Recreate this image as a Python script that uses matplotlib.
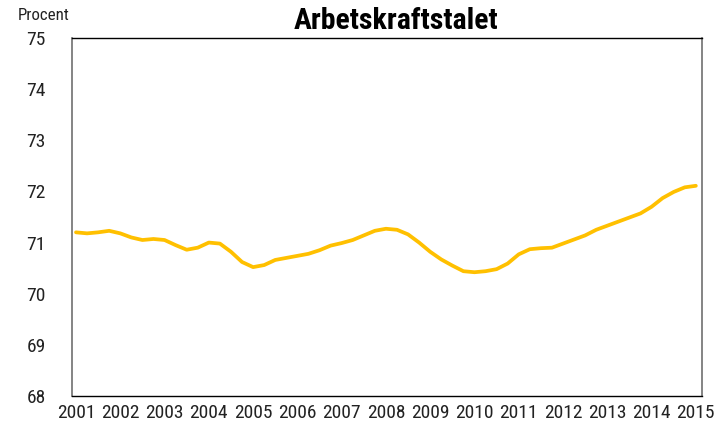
import matplotlib
matplotlib.use("Agg")
import matplotlib.pyplot as plt
from matplotlib import font_manager
import numpy as np

# quarterly values, 2001 Q1 .. 2015 Q1
years = list(range(2001, 2016))
values = [
    71.20, 71.18, 71.20, 71.23,
    71.18, 71.10, 71.05, 71.07,
    71.05, 70.95, 70.86, 70.90,
    71.00, 70.98, 70.82, 70.62,
    70.52, 70.56, 70.66, 70.70,
    70.74, 70.78, 70.85, 70.94,
    70.99, 71.05, 71.14, 71.23,
    71.27, 71.25, 71.16, 71.00,
    70.82, 70.67, 70.55, 70.44,
    70.42, 70.44, 70.48, 70.59,
    70.77, 70.87, 70.89, 70.90,
    70.98, 71.06, 71.14, 71.25,
    71.33, 71.41, 71.49, 71.57,
    71.70, 71.87, 71.99, 72.08,
    72.11,
]
yticks = [68, 69, 70, 71, 72, 73, 74, 75]

# pick a narrow face if one is installed
installed = {f.name for f in font_manager.fontManager.ttflist}
narrow = None
for name in ["Liberation Sans Narrow", "Roboto Condensed", "DejaVu Sans Condensed",
             "Open Sans Condensed", "Noto Sans Condensed"]:
    if name in installed:
        narrow = name
        break
if narrow is not None:
    plt.rcParams["font.family"] = [narrow, "DejaVu Sans"]
    tick_size, title_size, unit_size = 14, 21.5, 12.2
else:
    plt.rcParams["font.family"] = ["DejaVu Sans"]
    tick_size, title_size, unit_size = 10.8, 16, 9.5

t = 2001 + np.arange(len(values)) / 4.0

fig = plt.figure(figsize=(7.23, 4.28), dpi=100)
ax = fig.add_axes([0.0996, 0.0748, 0.8714, 0.8364])
ax.plot(t, values, color="#FFC000", linewidth=2.7, solid_capstyle="round",
        solid_joinstyle="round")

ax.set_xlim(2000.91, 2015.14)
ax.set_ylim(68, 75)
ax.set_xticks(years)
ax.set_xticklabels([str(y) for y in years])
ax.set_yticks(yticks)
ax.tick_params(length=0, labelsize=tick_size, colors="#222222")
ax.tick_params(axis="y", pad=19)
ax.tick_params(axis="x", pad=6)

for side in ["top", "bottom"]:
    ax.spines[side].set_color("black")
    ax.spines[side].set_linewidth(1.0)
for side in ["left", "right"]:
    ax.spines[side].set_color("#707070")
    ax.spines[side].set_linewidth(1.2)

fig.text(0.548, 0.952, "Arbetskraftstalet", ha="center", va="center",
         fontsize=title_size, fontweight="bold", color="black")
fig.text(0.025, 0.963, "Procent", ha="left", va="center", fontsize=unit_size,
         color="#222222")

fig.savefig("out.png", dpi=100)
